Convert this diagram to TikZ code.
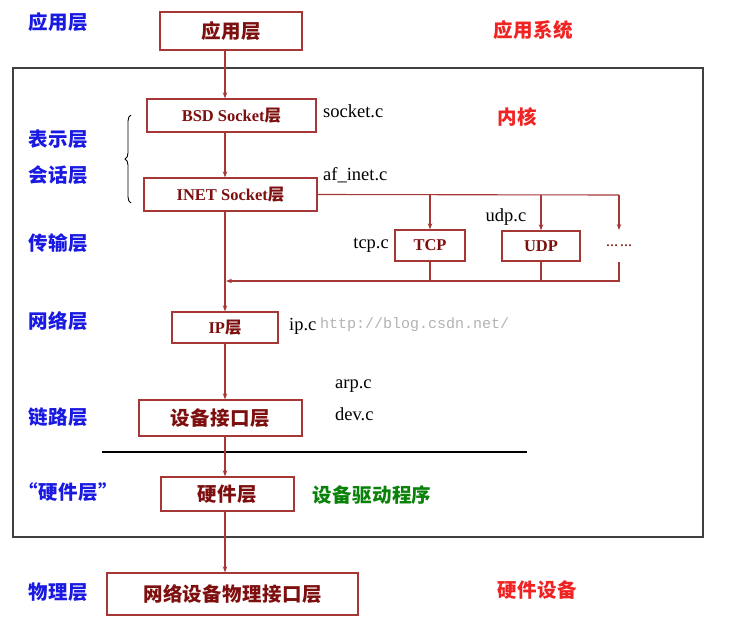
\documentclass[tikz,border=0pt]{standalone}
\usepackage{fontspec}
\setmainfont{Liberation Serif}
\setmonofont{Liberation Mono}
\newfontfamily\cjk[LetterSpace=2]{Noto Sans CJK SC}
\usepackage{xcolor}
\usetikzlibrary{arrows.meta, decorations.pathreplacing}
\definecolor{boxred}{RGB}{165,55,55}
\definecolor{txtred}{RGB}{125,15,15}
\definecolor{layblue}{RGB}{25,25,225}
\definecolor{sysred}{RGB}{240,35,35}
\definecolor{drvgreen}{RGB}{10,130,10}

\begin{document}
\begin{tikzpicture}[x=1pt, y=-1pt,
    box/.style={draw=boxred, line width=1.3pt, text=txtred, inner sep=0pt,
      font=\fontsize{16.5}{18}\selectfont\bfseries},
    layer/.style={text=layblue, font=\cjk\fontsize{19.5}{21}\selectfont\bfseries},
    side/.style={font=\cjk\fontsize{19.5}{21}\selectfont\bfseries},
    file/.style={font=\fontsize{18.5}{20}\selectfont, inner sep=0pt},
    link/.style={draw=boxred, line width=1.1pt},
    arr/.style={link, -{Stealth[length=6pt, width=4.5pt]}}]
    \useasboundingbox (0,0) rectangle (733,642);
    \draw[line width=1.3pt, black!75] (13,68) rectangle (703,537);

    \node[box, minimum width=142pt, minimum height=38pt] (app) at (231,31) {\cjk\fontsize{19.5}{21}\selectfont 应用层};
    \node[box, minimum width=169pt, minimum height=33pt] (bsd) at (231.5,115.5) {BSD Socket{\cjk 层}};
    \node[box, minimum width=173pt, minimum height=33pt] (inet) at (230.5,194.5) {INET Socket{\cjk 层}};
    \node[box, minimum width=70pt, minimum height=31pt] (tcp) at (430,245.5) {TCP};
    \node[box, minimum width=78pt, minimum height=30pt] (udp) at (541,246) {UDP};
    \node[text=txtred, font=\fontsize{12}{14}\selectfont\bfseries, inner sep=0pt] (dots) at (619,246) {…\,…};
    \node[box, minimum width=106pt, minimum height=31pt] (ip) at (225,327.5) {IP{\cjk 层}};
    \node[box, minimum width=163pt, minimum height=36pt] (dev) at (220.5,418) {\cjk\fontsize{19.5}{21}\selectfont 设备接口层};
    \node[box, minimum width=133pt, minimum height=34pt] (hw) at (227.5,494) {\cjk\fontsize{19.5}{21}\selectfont 硬件层};
    \node[box, minimum width=251pt, minimum height=42pt] (phy) at (232.5,594) {\cjk\fontsize{19.5}{21}\selectfont 网络设备物理接口层};

    \node[file, anchor=west] (fsock) at (323,111) {socket.c};
    \node[file, anchor=west] (finet) at (323,175) {af\_inet.c};
    \node[file, anchor=east] (ftcp) at (389,245) {tcp.c};
    \node[file] (fudp) at (506,217) {udp.c};
    \node[file, anchor=west] (fip) at (289,326) {ip.c};
    \node[file, anchor=west] (farp) at (335,386) {arp.c};
    \node[file, anchor=west] (fdev) at (335,414) {dev.c};
    \node[font=\ttfamily\fontsize{15}{17}\selectfont, text=black!30, anchor=west, inner sep=0pt] (mark) at (320,325) {http://blog.csdn.net/};

    \node[layer] (lapp) at (58,22) {应用层};
    \node[layer] (lpres) at (58,139) {表示层};
    \node[layer] (lsess) at (58,175) {会话层};
    \node[layer] (ltrans) at (58,243) {传输层};
    \node[layer] (lnet) at (58,321) {网络层};
    \node[layer] (llink) at (58,417) {链路层};
    \node[layer] (lhw) at (68,492) {“硬件层”};
    \node[layer] (lphy) at (58,592) {物理层};
    \node[side, text=sysred] (rsys) at (533,30) {应用系统};
    \node[side, text=sysred] (rkern) at (517,117) {内核};
    \node[side, text=sysred] (rdev) at (537,590) {硬件设备};
    \node[side, text=drvgreen] (rdrv) at (372,495) {设备驱动程序};

    \draw[decorate, decoration={brace, amplitude=6pt}, line width=0.9pt] (131,203) -- (131,115);
    \draw[line width=1.2pt] (102,452) -- (527,452);

    \coordinate (br) at (619,195);
    \coordinate (dtop) at (619,230);
    \coordinate (dbot) at (619,262);
    \coordinate (ret) at (619,281);

    \draw[arr] (app.south -| ip) -- (bsd.north -| ip);
    \draw[arr] (bsd.south -| ip) -- (inet.north -| ip);
    \draw[arr] (inet.south -| ip) -- (ip.north);
    \draw[link] (inet.east) -- (br);
    \draw[arr] (inet.east -| tcp) -- (tcp.north);
    \draw[arr] (inet.east -| udp) -- (udp.north);
    \draw[arr] (br) -- (dtop);
    \draw[link] (tcp.south) -- (tcp |- ret);
    \draw[link] (udp.south) -- (udp |- ret);
    \draw[arr] (dbot) -- (ret) -- ([xshift=1pt]ret -| ip);
    \draw[arr] (ip.south) -- (dev.north -| ip);
    \draw[arr] (dev.south -| ip) -- (hw.north -| ip);
    \draw[arr] (hw.south -| ip) -- (phy.north -| ip);
\end{tikzpicture}
\end{document}
